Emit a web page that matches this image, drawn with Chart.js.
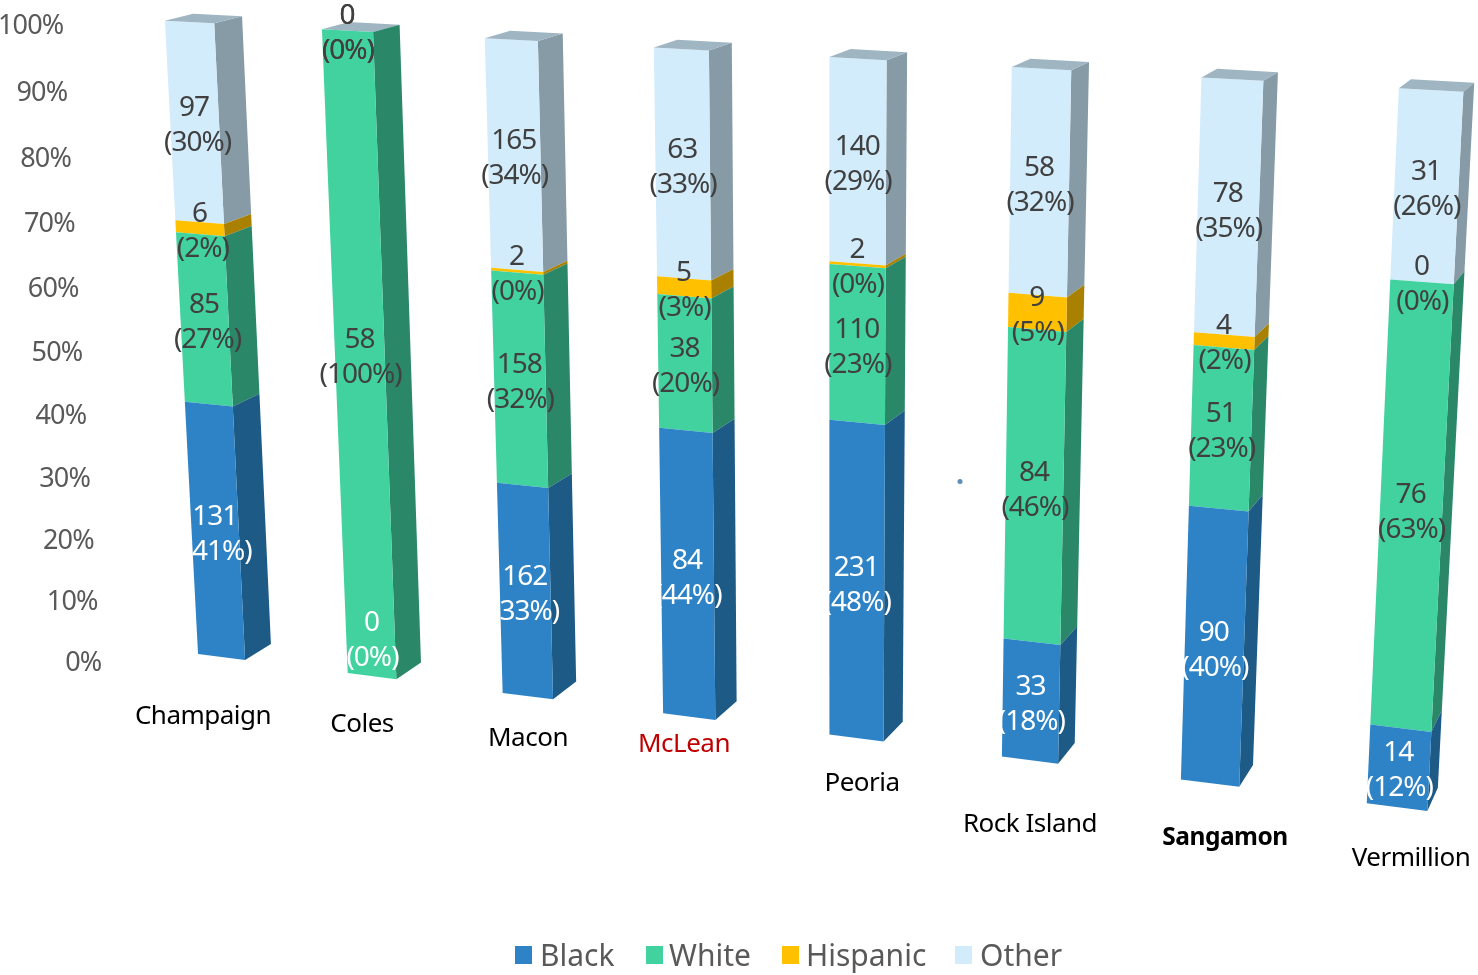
<!DOCTYPE html>
<html lang="en">
<head>
    <meta charset="UTF-8">
    <title>County breakdown</title>
    <script src="https://cdn.jsdelivr.net/npm/chart.js"></script>
    <style>
        html, body { margin: 0; padding: 0; background: #fff; }
        canvas { display: block; }
    </style>
</head>
<body>
    <canvas id="chart" width="1478" height="975"></canvas>

    <script>
        const categories = ['Champaign', 'Coles', 'Macon', 'McLean', 'Peoria', 'Rock Island', 'Sangamon', 'Vermillion'];
        const black = [131, 0, 162, 84, 231, 33, 90, 14];
        const white = [85, 58, 158, 38, 110, 84, 51, 76];
        const hispanic = [6, 0, 2, 5, 2, 9, 4, 0];
        const other = [97, 0, 165, 63, 140, 58, 78, 31];

        // text anchors, the source slide has these hand placed
        const catLabelX = [203, 362, 528, 684, 862, 1030, 1225, 1411];
        const catLabelY = [717, 725, 739, 745, 784, 825, 838, 859];
        const legendBoxX = [515, 646, 782, 955];
        const legendTextX = [540, 669, 806, 980];

        const FONT = '"Noto Sans", sans-serif';
        const totals = categories.map((c, i) => black[i] + white[i] + hispanic[i] + other[i]);
        const toPercent = arr => arr.map((v, i) => v / totals[i] * 100);

        // unit square -> quad, order: (0,0) (1,0) (1,1) (0,1)
        function makeProjection(q) {
            const [x0, y0] = q[0], [x1, y1] = q[1], [x2, y2] = q[2], [x3, y3] = q[3];
            const dx1 = x1 - x2, dx2 = x3 - x2, sx = x0 - x1 + x2 - x3;
            const dy1 = y1 - y2, dy2 = y3 - y2, sy = y0 - y1 + y2 - y3;
            const den = dx1 * dy2 - dx2 * dy1;
            const g = (sx * dy2 - dx2 * sy) / den;
            const h = (dx1 * sy - sx * dy1) / den;
            const a = x1 - x0 + g * x1, b = x3 - x0 + h * x3;
            const d = y1 - y0 + g * y1, e = y3 - y0 + h * y3;
            return (s, t) => {
                const w = g * s + h * t + 1;
                return [(a * s + b * t + x0) / w, (d * s + e * t + y0) / w];
            };
        }

        // bar centre lines of first and last county, front and back planes
        const front = makeProjection([[221.5, 657], [1397, 807], [1431, 90], [189.5, 22]]);
        const back = makeProjection([[247.5, 641], [1408, 784], [1442.5, 81], [217.5, 15]]);

        function poly(ctx, pts, fill) {
            ctx.beginPath();
            pts.forEach((p, i) => i ? ctx.lineTo(p[0], p[1]) : ctx.moveTo(p[0], p[1]));
            ctx.closePath();
            ctx.fillStyle = fill;
            ctx.fill();
        }

        function normalizers(chart) {
            const xs = chart.scales.x, ys = chart.scales.y;
            const x0 = xs.getPixelForValue(0), x1 = xs.getPixelForValue(categories.length - 1);
            const y0 = ys.getPixelForValue(0), y1 = ys.getPixelForValue(100);
            return { s: px => (px - x0) / (x1 - x0), t: py => (py - y0) / (y1 - y0) };
        }

        const perspectiveBars = {
            id: 'perspectiveBars',
            beforeDatasetDraw(chart, args) {
                const ctx = chart.ctx;
                const n = normalizers(chart);
                const ds = chart.data.datasets[args.index];
                const isLast = args.index === chart.data.datasets.length - 1;
                args.meta.data.forEach(bar => {
                    const sl = n.s(bar.x - bar.width / 2), sr = n.s(bar.x + bar.width / 2);
                    const tb = n.t(bar.base), tt = n.t(bar.y);
                    poly(ctx, [front(sr, tb), back(sr, tb), back(sr, tt), front(sr, tt)], ds.sideColor);
                    poly(ctx, [front(sl, tb), front(sr, tb), front(sr, tt), front(sl, tt)], ds.backgroundColor);
                    if (isLast) {
                        poly(ctx, [front(sl, tt), front(sr, tt), back(sr, tt), back(sl, tt)], ds.capColor);
                    }
                });
                return false;
            },
            afterDatasetsDraw(chart) {
                const ctx = chart.ctx;
                const n = normalizers(chart);
                ctx.save();
                ctx.textAlign = 'center';
                ctx.textBaseline = 'middle';

                // count and share labels
                ctx.font = '28px ' + FONT;
                ctx.letterSpacing = '-1px';
                chart.data.datasets.forEach((ds, di) => {
                    chart.getDatasetMeta(di).data.forEach((bar, i) => {
                        const p = front(n.s(bar.x), (n.t(bar.base) + n.t(bar.y)) / 2);
                        let dy = 3;
                        if (ds.counts[i] === 0 && di === 0) dy = -36; // zero at the very bottom sits up inside the bar
                        if (ds.data[i] === 100) dy = -4;
                        const shareShift = i === 0 ? 3 : 0.5; // first bar leans the most
                        ctx.fillStyle = ds.labelColor;
                        ctx.fillText(ds.counts[i], p[0] - 0.5, p[1] + dy - 17.5);
                        ctx.fillText('(' + Math.round(ds.data[i]) + '%)', p[0] + shareShift, p[1] + dy + 17.5);
                    });
                });

                // y axis leans with the plane, drawn from the scale ticks
                ctx.font = '27px ' + FONT;
                ctx.letterSpacing = '-0.8px';
                ctx.fillStyle = '#595959';
                ctx.textAlign = 'right';
                chart.scales.y.ticks.forEach(tick => {
                    const t = tick.value / 100;
                    const y = (661 - 638.25 * t) / (1 - 0.052 * t);
                    ctx.fillText(tick.value + '%', 101.5 - 38 * t, y + 2);
                });

                // county names
                ctx.letterSpacing = '-0.5px';
                ctx.textAlign = 'center';
                categories.forEach((name, i) => {
                    ctx.font = (name === 'Sangamon' ? 'bold 24.5px ' : '26px ') + FONT;
                    ctx.fillStyle = name === 'McLean' ? '#C00000' : '#000000';
                    ctx.fillText(name, catLabelX[i], catLabelY[i]);
                });

                // legend, box to text gap is tighter than the built-in one allows
                ctx.letterSpacing = '0px';
                ctx.font = '30px ' + FONT;
                ctx.textAlign = 'left';
                chart.data.datasets.forEach((ds, di) => {
                    ctx.fillStyle = ds.backgroundColor;
                    ctx.fillRect(legendBoxX[di], 946, 17, 18);
                    ctx.fillStyle = '#595959';
                    ctx.fillText(ds.label, legendTextX[di], 957);
                });

                // stray speck in the original
                ctx.beginPath();
                ctx.arc(960, 481.5, 2.5, 0, Math.PI * 2);
                ctx.fillStyle = '#5B8DB8';
                ctx.fill();
                ctx.restore();
            }
        };

        new Chart(document.getElementById('chart').getContext('2d'), {
            type: 'bar',
            data: {
                labels: categories,
                datasets: [
                    { label: 'Black', counts: black, data: toPercent(black), backgroundColor: '#2E83C6', sideColor: '#1D5A86', labelColor: '#FFFFFF' },
                    { label: 'White', counts: white, data: toPercent(white), backgroundColor: '#42D2A0', sideColor: '#2A8768', labelColor: '#404040' },
                    { label: 'Hispanic', counts: hispanic, data: toPercent(hispanic), backgroundColor: '#FFC000', sideColor: '#A98000', labelColor: '#404040' },
                    { label: 'Other', counts: other, data: toPercent(other), backgroundColor: '#D3ECFB', sideColor: '#869BA6', capColor: '#9FB5C2', labelColor: '#404040' }
                ]
            },
            options: {
                responsive: false,
                animation: false,
                layout: { padding: 0 },
                datasets: { bar: { categoryPercentage: 1, barPercentage: 0.318 } },
                scales: {
                    x: { stacked: true, display: false },
                    y: { stacked: true, display: false, min: 0, max: 100, ticks: { stepSize: 10 } }
                },
                plugins: {
                    tooltip: { enabled: false },
                    legend: { display: false }
                }
            },
            plugins: [perspectiveBars]
        });
    </script>
</body>
</html>
